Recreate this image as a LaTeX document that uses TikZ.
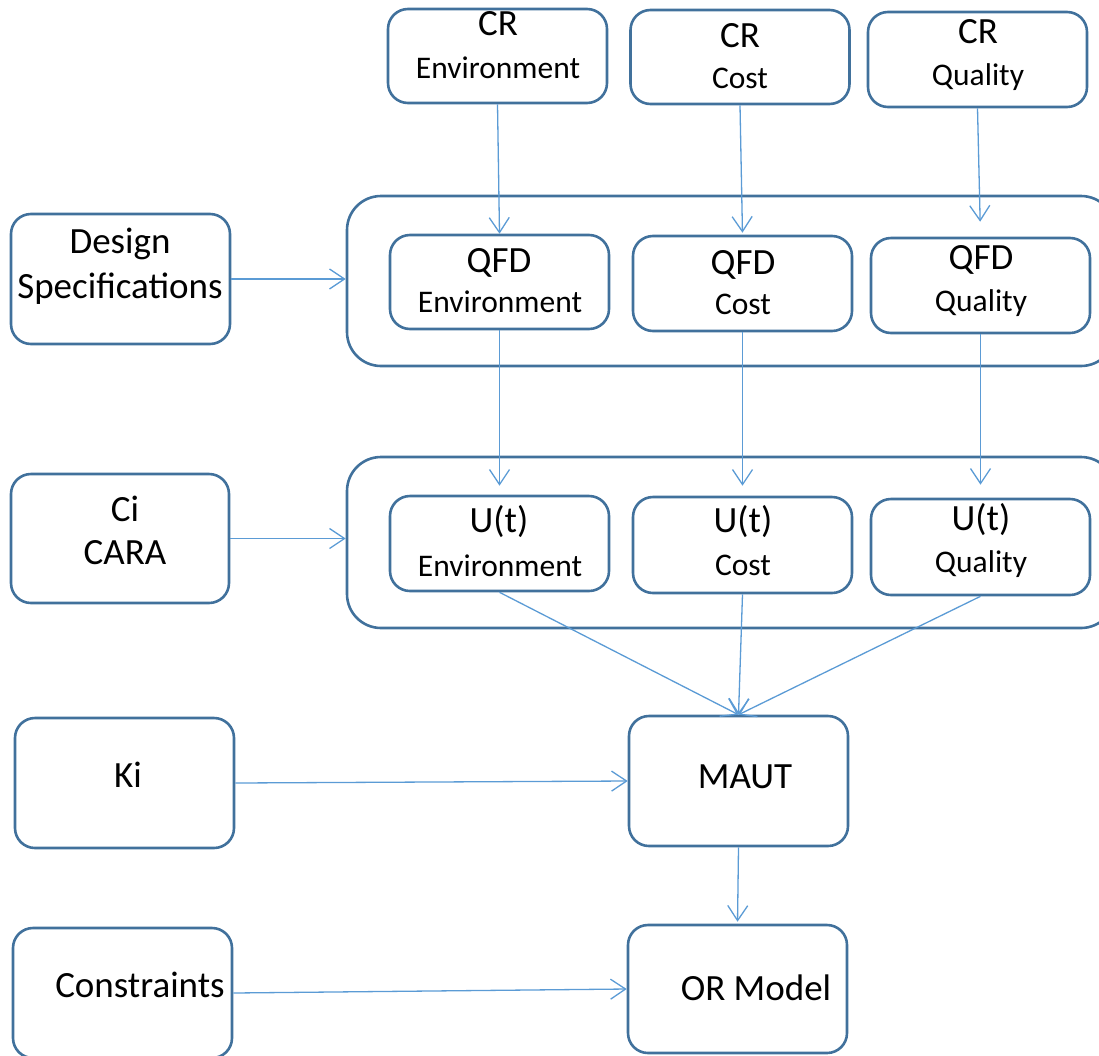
\documentclass[tikz,border=0pt]{standalone}
\usepackage{fontspec}
\setmainfont{Carlito}
\usetikzlibrary{arrows.meta}
\usetikzlibrary{calc}
\definecolor{boxline}{HTML}{41719C}
\definecolor{arrline}{HTML}{5B9BD5}
\tikzset{
    blk/.style={draw=boxline, line width=2.6pt, rounded corners=20pt, minimum width=219pt, inner sep=0pt},
    frame/.style={draw=boxline, line width=2.6pt, rounded corners=34pt, minimum width=768pt, inner sep=0pt},
    big/.style={font=\fontsize{37}{44}\selectfont, text height=0.64em, text depth=0pt, inner sep=0pt, yshift=-7pt},
    small/.style={font=\fontsize{31.5}{38}\selectfont, text height=0.64em, text depth=0pt, inner sep=0pt, yshift=-7pt},
    arr/.style={draw=arrline, line width=1.3pt, -{Straight Barb[length=15pt,width=20pt]}}
}

\begin{document}
\begin{tikzpicture}[x=1pt, y=-1pt]
    \useasboundingbox (0,0) rectangle (1099,1055);
    % top row: CR
    \node[blk, minimum height=94pt] (cre) at (497.5, 56) {};
    \node[blk, minimum height=94pt] (crc) at (740, 57) {};
    \node[blk, minimum height=95pt] (crq) at (977.5, 59.5) {};
    \node[big]   (cre-a) at (498, 25) {CR};
    \node[small] (cre-b) at (498, 68) {Environment};
    \node[big]   (crc-a) at (740, 37) {CR};
    \node[small] (crc-b) at (740, 78) {Cost};
    \node[big]   (crq-a) at (978, 33) {CR};
    \node[small] (crq-b) at (978, 75) {Quality};
    % QFD
    \node[frame, minimum height=170pt] (qfd) at (731, 281) {};
    \node[blk, minimum height=94pt] (qfde) at (499.5, 282) {};
    \node[blk, minimum height=95pt] (qfdc) at (742.5, 283.5) {};
    \node[blk, minimum height=95pt] (qfdq) at (980.5, 285.5) {};
    \node[big]   (qfde-a) at (499, 262) {QFD};
    \node[small] (qfde-b) at (500, 302) {Environment};
    \node[big]   (qfdc-a) at (743, 264) {QFD};
    \node[small] (qfdc-b) at (743, 304) {Cost};
    \node[big]   (qfdq-a) at (981, 259) {QFD};
    \node[small] (qfdq-b) at (981, 301) {Quality};
    \node[blk, minimum height=130pt] (spec) at (120.5, 279) {};
    \node[big] (spec-a) at (120, 243) {Design};
    \node[big] (spec-b) at (120, 288) {Specifications};
    % utility
    \node[frame, minimum height=171pt] (util) at (731, 542.5) {};
    \node[blk, minimum height=95pt] (ute) at (499.5, 543.5) {};
    \node[blk, minimum height=96pt] (utc) at (742.5, 545) {};
    \node[blk, minimum height=96pt] (utq) at (980.5, 547) {};
    \node[big]   (ute-a) at (499, 522) {U(t)};
    \node[small] (ute-b) at (500, 566) {Environment};
    \node[big]   (utc-a) at (743, 522) {U(t)};
    \node[small] (utc-b) at (743, 565) {Cost};
    \node[big]   (utq-a) at (981, 520) {U(t)};
    \node[small] (utq-b) at (981, 562) {Quality};
    \node[blk, minimum height=129pt, minimum width=218pt] (cara) at (120, 538.5) {};
    \node[big] (cara-a) at (125, 511) {Ci};
    \node[big] (cara-b) at (125, 554) {CARA};
    % MAUT and OR model
    \node[blk, minimum height=130pt] (ki) at (124.5, 783) {};
    \node[big] (ki-a) at (128, 777) {Ki};
    \node[blk, minimum height=130pt] (maut) at (738.5, 781) {};
    \node[big] (maut-a) at (745, 778) {MAUT};
    \node[blk, minimum height=130pt] (cons) at (122.5, 993) {};
    \node[big] (cons-a) at (140, 987) {Constraints};
    \node[blk, minimum height=128pt] (orm) at (737.5, 989) {};
    \node[big] (orm-a) at (756, 990) {OR Model};
    % arrows
    \draw[arr] (cre.south) -- (qfde.north);
    \draw[arr, shorten >=2pt] (crc.south) -- (qfdc.north);
    \draw[arr, shorten >=15pt] (crq.south) -- (qfdq.north);
    \draw[arr] (spec.east) -- (spec.east -| qfd.west);
    \draw[arr, shorten >=9pt] (qfde.south) -- (ute.north);
    \draw[arr, shorten >=10pt] (qfdc.south) -- (utc.north);
    \draw[arr, shorten >=13pt] (qfdq.south) -- (utq.north);
    \draw[arr] (cara.east) -- (cara.east -| util.west);
    \draw[arr] (ute.south) -- (maut.north);
    \draw[arr] (utc.south) -- (maut.north);
    \draw[arr] (utq.south) -- (maut.north);
    \draw[arr] (ki.east) -- (maut.west);
    \draw[arr, shorten >=2pt] (maut.south) -- (orm.north);
    \draw[arr] (cons.east) -- (orm.west);
\end{tikzpicture}
\end{document}
